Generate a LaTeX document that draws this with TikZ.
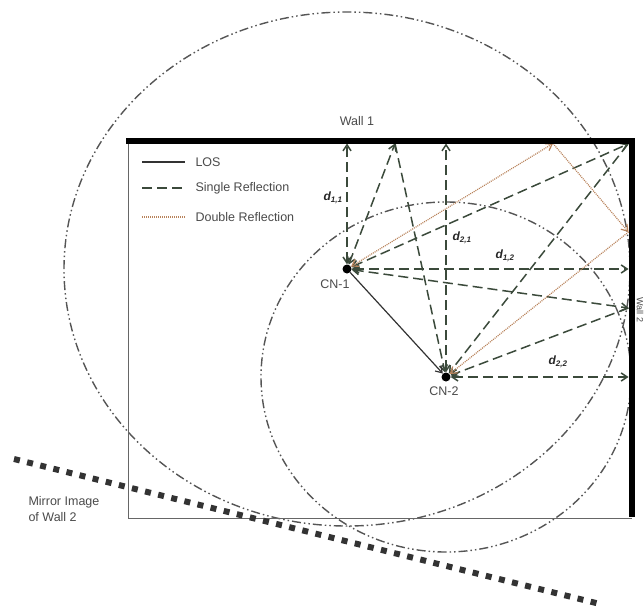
\documentclass[tikz,border=0pt]{standalone}
\usepackage{fontspec}
\setmainfont{Liberation Sans}
\usetikzlibrary{arrows.meta}
\definecolor{refl}{HTML}{3B4A3B}
\definecolor{dbl}{HTML}{B8825A}
\definecolor{circ}{HTML}{555555}
\definecolor{txt}{HTML}{4A4A4A}
\begin{document}
\begin{tikzpicture}[x=1pt,y=-1pt,
  every node/.style={font=\fontsize{12.5}{16}\selectfont, text=txt},
  cn/.style={circle, fill=black, inner sep=0pt, minimum size=9pt},
  wall/.style={line width=5.5pt, line join=miter},
  thinwall/.style={draw=black!60, line width=1pt},
  los/.style={draw=black!80, line width=1.2pt},
  sref/.style={draw=refl, line width=1.5pt, dash pattern=on 10pt off 5pt},
  dref/.style={draw=dbl, line width=1.2pt, dash pattern=on 1pt off 1pt},
  ring/.style={draw=circ, line width=1.4pt, dash pattern=on 9pt off 3pt on 1.5pt off 3pt on 1.5pt off 3pt},
  mirror/.style={draw=black!80, line width=6pt, dash pattern=on 6pt off 7.5pt},
  oneway/.style={-{Straight Barb[length=6pt,width=8pt]}},
  twoway/.style={{Straight Barb[length=6pt,width=8pt]}-{Straight Barb[length=6pt,width=8pt]}},
  dlab/.style={font=\fontsize{12}{14}\selectfont\bfseries\itshape, text=black!85}
]
\useasboundingbox (0,0) rectangle (644,610);

% sensor nodes
\node[cn] (CN1) at (347,269) {};
\node[cn] (CN2) at (446,377) {};

% range circles
\draw[ring] (CN1.center) ellipse [x radius=283pt, y radius=257pt];
\draw[ring] (CN2.center) ellipse [x radius=185pt, y radius=175pt];

% reflection points
\coordinate (w11) at (347,143.5);
\coordinate (w1r) at (395,143.5);
\coordinate (w21) at (446,143.5);
\coordinate (w1d) at (553,143.5);
\coordinate (cor) at (628,144);
\coordinate (w2d) at (628.5,232);
\coordinate (w12) at (628.5,269);
\coordinate (w2r) at (628.5,308);
\coordinate (w22) at (628.5,377);

% single reflections
\draw[sref, twoway] (CN1) -- (w11);
\draw[sref, twoway] (CN2) -- (w21);
\draw[sref, twoway] (CN1) -- (w1r);
\draw[sref, oneway] (w1r) -- (CN2);
\draw[sref, twoway] (CN1) -- (cor);
\draw[sref, oneway] (cor) -- (CN2);
\draw[sref, twoway] (CN1) -- (w12);
\draw[sref, twoway] (CN1) -- (w2r);
\draw[sref, oneway] (w2r) -- (CN2);
\draw[sref, twoway] (CN2) -- (w22);

% double reflection
\draw[dref, twoway] (CN1) -- (w1d);
\draw[dref, oneway] (w1d) -- (w2d);
\draw[dref, oneway] (w2d) -- (CN2);

% line of sight
\draw[los, oneway] (CN1) -- (CN2);

% walls
\draw[thinwall] (128,141) -- (128,518) -- (632,518);
\draw[wall] (126,141) -- (632,141) -- (632,517);

% mirror image of wall 2
\coordinate (m1) at (14,459);
\coordinate (m2) at (600,604);
\draw[mirror] (m1) -- (m2);

% labels
\node (wall1) at (357,121) {Wall 1};
\node[rotate=-90, font=\fontsize{9}{10}\selectfont] (wall2) at (640,310) {Wall 2};
\node (cn1lab) at (335,284) {CN-1};
\node (cn2lab) at (444,391) {CN-2};
\node[align=left, anchor=west] (mirlab) at (25,509) {Mirror Image\\of Wall 2};

\node[dlab] (d11) at (333,198) {d\textsubscript{1,1}};
\node[dlab] (d21) at (462,238) {d\textsubscript{2,1}};
\node[dlab] (d12) at (505,256) {d\textsubscript{1,2}};
\node[dlab] (d22) at (558,362) {d\textsubscript{2,2}};

% legend
\coordinate (la1) at (142,162); \coordinate (lb1) at (185,162);
\coordinate (la2) at (142,188); \coordinate (lb2) at (185,188);
\coordinate (la3) at (142,217); \coordinate (lb3) at (185,217);
\draw[los] (la1) -- (lb1);
\draw[sref] (la2) -- (lb2);
\draw[dref] (la3) -- (lb3);
\node[anchor=west] (leg1) at (192,162) {LOS};
\node[anchor=west] (leg2) at (192,188) {Single Reflection};
\node[anchor=west] (leg3) at (192,217) {Double Reflection};
\end{tikzpicture}
\end{document}
